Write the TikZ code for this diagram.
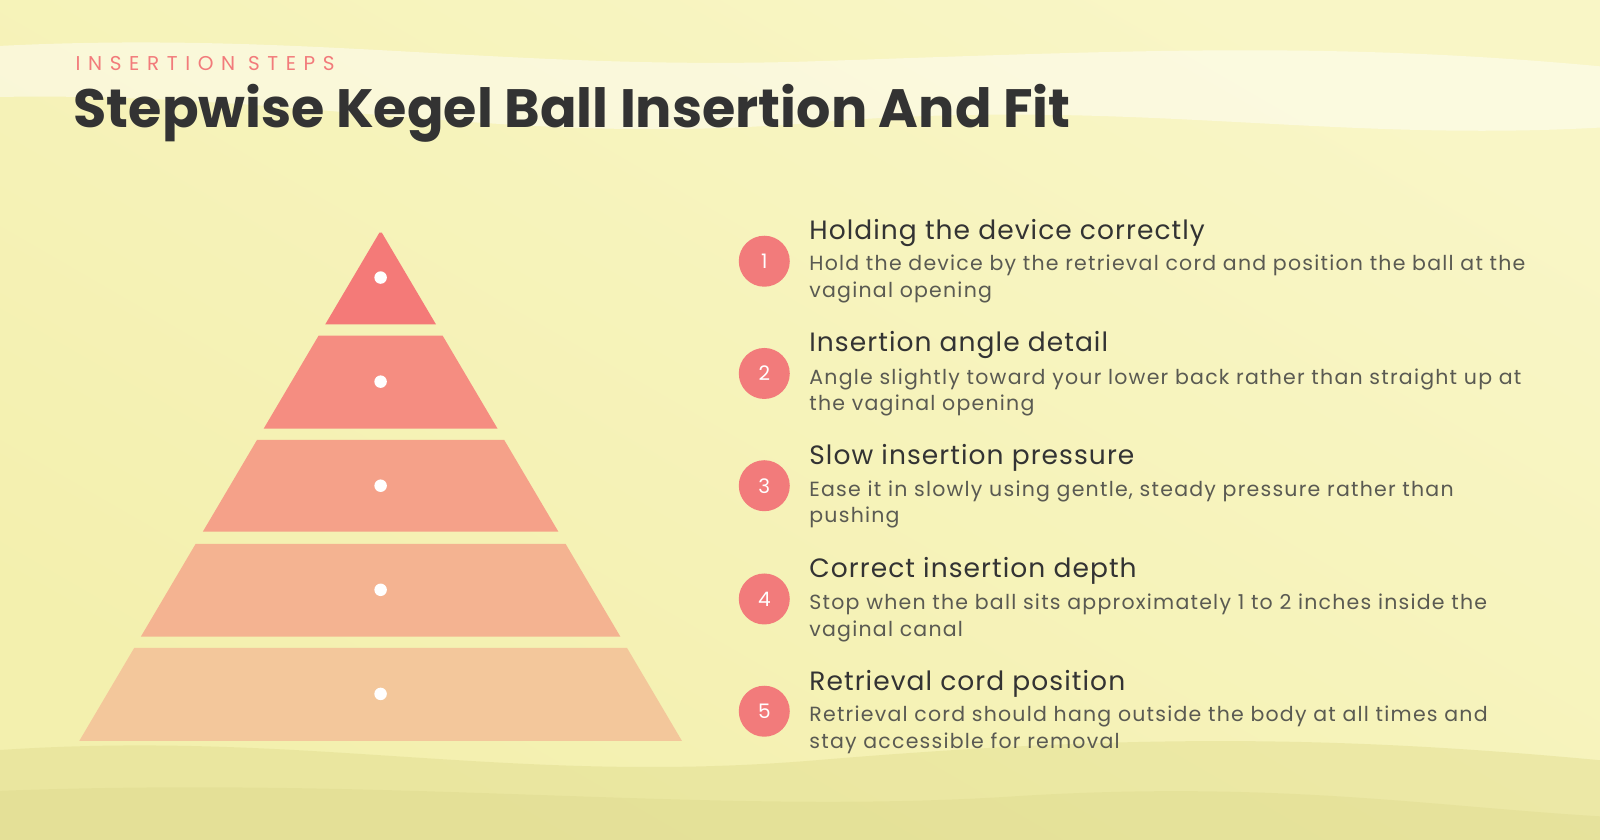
\documentclass[tikz,border=0pt]{standalone}
\usepackage{fontspec}
\setmainfont{Poppins}
\begin{document}
\begin{tikzpicture}[x=1.0204pt,y=-1.0204pt,
  layer/.style={draw=none},
  dot/.style={circle,fill=white,inner sep=0pt,minimum size=12.5pt},
  num/.style={circle,fill=numc,inner sep=0pt,minimum size=51pt,text=white,font=\fontsize{20}{24}\selectfont},
  head/.style={anchor=west,inner sep=0pt,text=headc,font=\fontsize{26.5}{30}\selectfont\addfontfeatures{LetterSpace=4}},
  desc/.style={anchor=north west,inner sep=0pt,text=descc,align=left,font=\fontsize{20.5}{26.5}\selectfont\addfontfeatures{LetterSpace=6}}]
\definecolor{bgA}{HTML}{F9F6C6}
\definecolor{bgB}{HTML}{EEEA96}
\definecolor{numc}{HTML}{F27B7B}
\definecolor{headc}{HTML}{333333}
\definecolor{descc}{HTML}{5A5A52}
\definecolor{Lone}{HTML}{F47A78}
\definecolor{Ltwo}{HTML}{F58D81}
\definecolor{Lthree}{HTML}{F5A189}
\definecolor{Lfour}{HTML}{F4B391}
\definecolor{Lfive}{HTML}{F3C79B}
\useasboundingbox (0,0) rectangle (1568,823);
\shade[top color=bgA,bottom color=bgB,shading angle=-30] (0,0) rectangle (1568,823);
\fill[bgA,opacity=0.5] (0,0) rectangle (1568,823);
% top wave
\fill[white,opacity=0.45] (0,45) .. controls (300,30) and (500,70) .. (800,60) .. controls (1100,50) and (1300,40) .. (1568,65) -- (1568,125) .. controls (1300,140) and (1100,95) .. (800,120) .. controls (500,145) and (300,90) .. (0,95) -- cycle;
% bottom wave
\fill[black!6!bgB,opacity=0.45] (0,735) .. controls (300,715) and (500,770) .. (800,745) .. controls (1100,720) and (1300,720) .. (1568,745) -- (1568,823) -- (0,823) -- cycle;
\fill[black!8!bgB,opacity=0.35] (0,775) .. controls (400,760) and (700,800) .. (1000,780) .. controls (1250,765) and (1400,790) .. (1568,800) -- (1568,823) -- (0,823) -- cycle;
% titles
\node[anchor=west,inner sep=0pt,text=numc,font=\fontsize{20}{22}\selectfont\addfontfeatures{LetterSpace=38}] (sub) at (74,62) {INSERTION STEPS};
\node[anchor=base west,inner sep=0pt,text=headc,font=\fontsize{54}{60}\selectfont\bfseries] (title) at (72,125) {Stepwise Kegel Ball Insertion And Fit};
% pyramid
\def\ax{373}\def\ay{226}\def\k{0.5905}
\foreach \ya/\yb/\c/\n in {228/318/Lone/1,329/420/Ltwo/2,431/521/Lthree/3,533/624/Lfour/4,635/726/Lfive/5}{
  \fill[\c] ({\ax-(\ya-\ay)*\k},\ya) -- ({\ax+(\ya-\ay)*\k},\ya) -- ({\ax+(\yb-\ay)*\k},\yb) -- ({\ax-(\yb-\ay)*\k},\yb) -- cycle;
}
\foreach \y/\n in {272/1,374/2,476/3,578/4,680/5}{\node[dot] (d\n) at (373,\y) {};}
% steps
\node[num] (n1) at (749,256) {1};
\node[head] (h1) at (793,228) {Holding the device correctly};
\node[desc] (t1) at (793,250) {Hold the device by the retrieval cord and position the ball at the\\vaginal opening};
\node[num] (n2) at (749,366) {2};
\node[head] (h2) at (793,338) {Insertion angle detail};
\node[desc] (t2) at (793,361) {Angle slightly toward your lower back rather than straight up at\\the vaginal opening};
\node[num] (n3) at (749,476) {3};
\node[head] (h3) at (793,449) {Slow insertion pressure};
\node[desc] (t3) at (793,471) {Ease it in slowly using gentle, steady pressure rather than\\pushing};
\node[num] (n4) at (749,587) {4};
\node[head] (h4) at (793,559) {Correct insertion depth};
\node[desc] (t4) at (793,582) {Stop when the ball sits approximately 1 to 2 inches inside the\\vaginal canal};
\node[num] (n5) at (749,697) {5};
\node[head] (h5) at (793,670) {Retrieval cord position};
\node[desc] (t5) at (793,692) {Retrieval cord should hang outside the body at all times and\\stay accessible for removal};
\end{tikzpicture}
\end{document}
